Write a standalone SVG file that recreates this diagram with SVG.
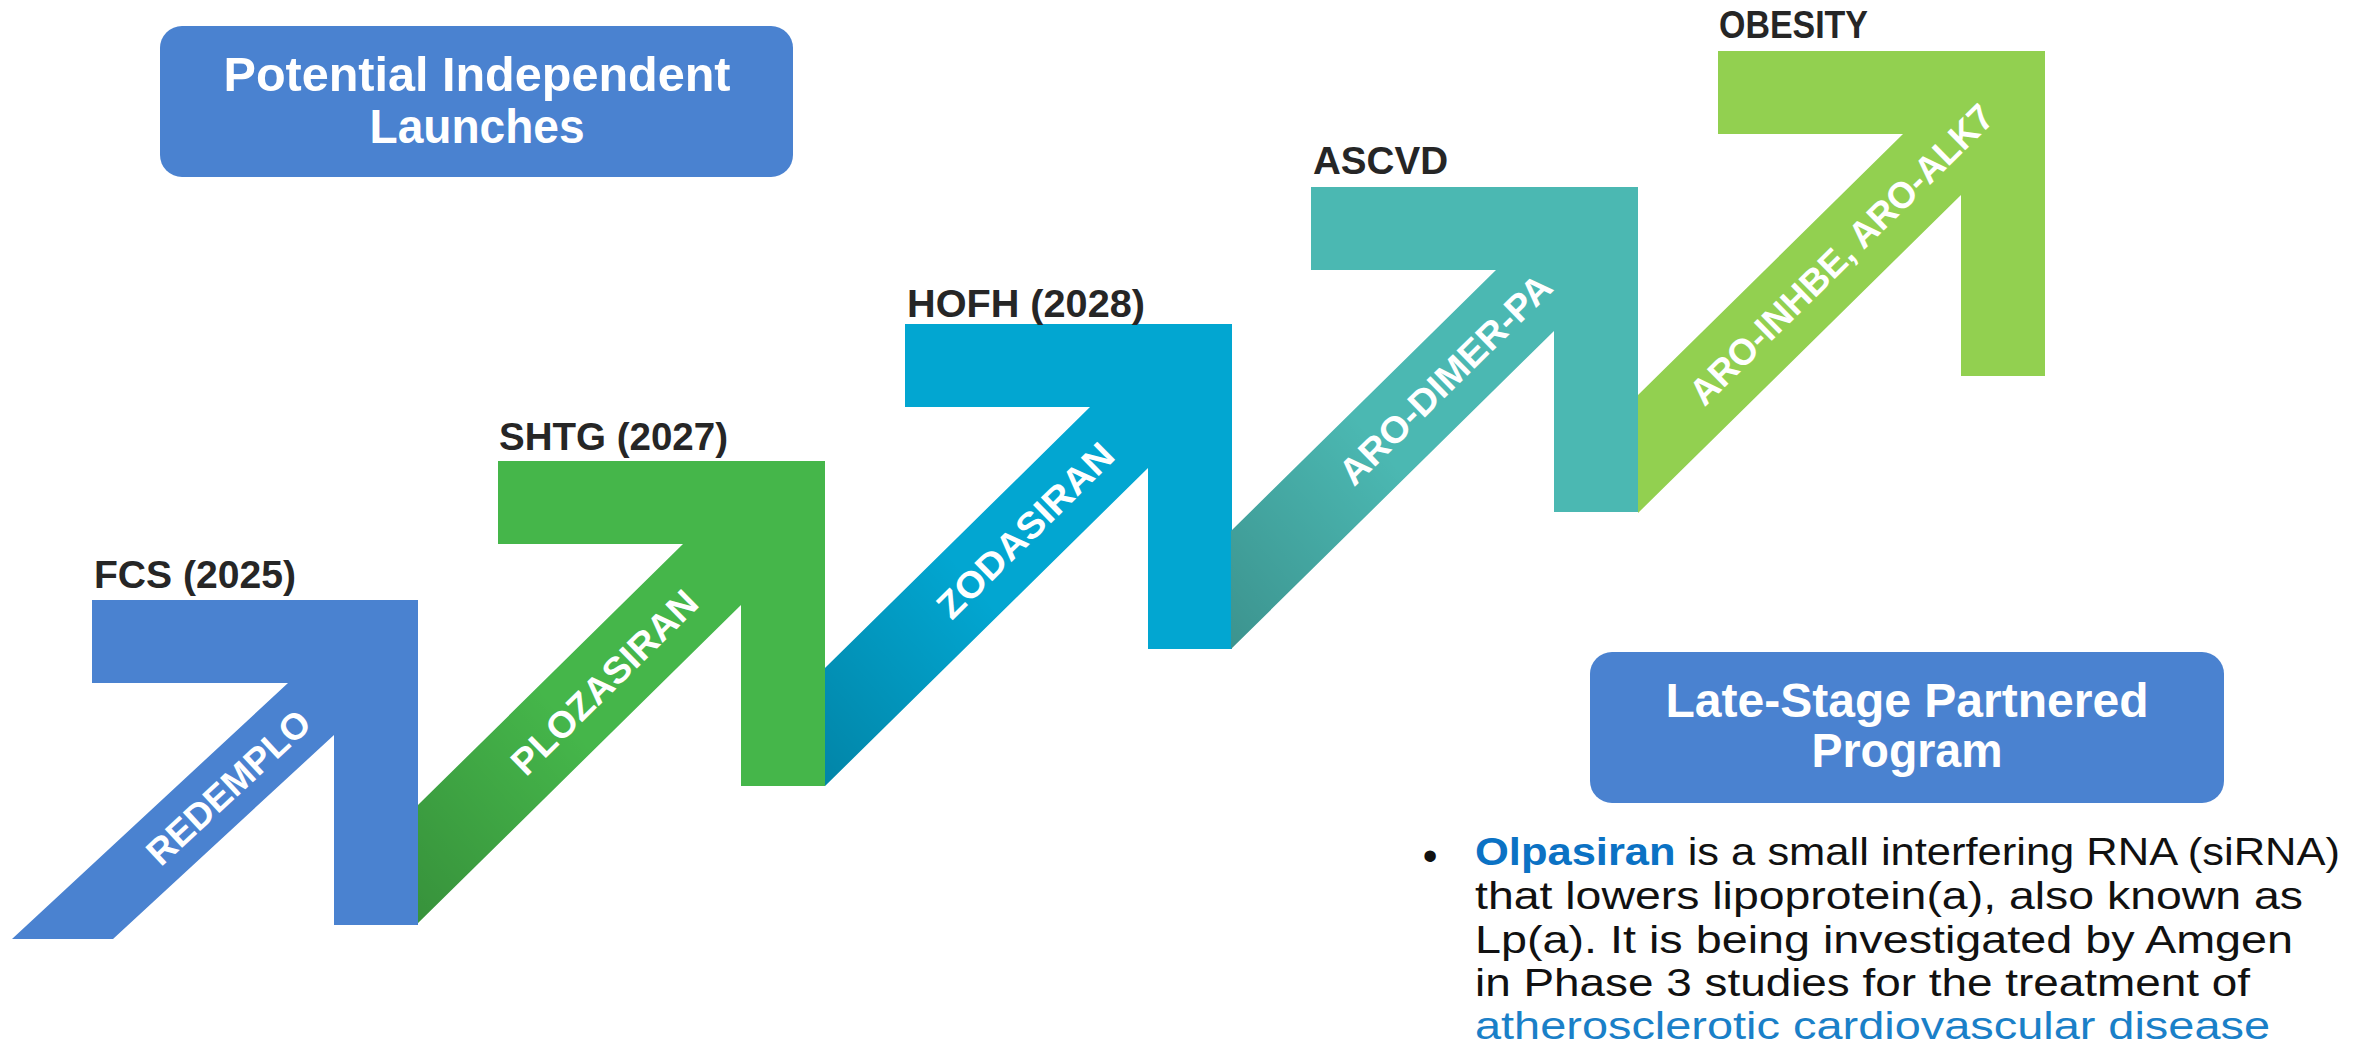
<svg xmlns="http://www.w3.org/2000/svg" xmlns:xlink="http://www.w3.org/1999/xlink" width="2364" height="1043" viewBox="0 0 2364 1043">
  <style>
    .box { fill: #4A82D0; }
    .boxtxt { font-family: "Liberation Sans", Arial, sans-serif; font-weight: bold; font-size: 48px; fill: #FFFFFF; text-anchor: middle; }
    .lbl { font-family: "Liberation Sans", Arial, sans-serif; font-weight: bold; font-size: 39px; fill: #262626; }
    .band { font-family: "Liberation Sans", Arial, sans-serif; font-weight: bold; font-size: 37px; fill: #FFFFFF; text-anchor: middle; }
    .body { font-family: "Liberation Sans", Arial, sans-serif; font-size: 38px; fill: #111111; }
    .hl { font-weight: bold; fill: #0B72C4; }
    .blue { fill: #4A82D0; }
    .green { fill: #45B64A; }
    .hofh { fill: #02A6D1; }
    .teal { fill: #4BB8B2; }
    .lime { fill: #92D050; }
  </style>
  <defs>
    <path id="arrowShape" d="M0,0 H327 V325 H243 V144 L-80,462 V344 L185,83 H0 Z"/>
    <path id="bandShade" d="M-80,344 L185,83 L243,144 L-80,462 Z" fill="url(#shade)"/>
    <linearGradient id="shade" x1="0" y1="1" x2="1" y2="0">
      <stop offset="0" stop-color="#000000" stop-opacity="0.2"/>
      <stop offset="0.5" stop-color="#000000" stop-opacity="0"/>
    </linearGradient>
  </defs>

  <g id="box-independent">
    <rect class="box" x="160" y="26" width="633" height="151" rx="22"/>
    <text class="boxtxt" x="477" y="91" textLength="507" lengthAdjust="spacingAndGlyphs">Potential Independent</text>
    <text class="boxtxt" x="477" y="143" textLength="215" lengthAdjust="spacingAndGlyphs">Launches</text>
  </g>

  <g id="node-fcs">
    <path class="blue" d="M92,600 H418 V925 H334 V735 L113,939 H12 L288,683 H92 Z"/>
    <text class="lbl" x="94" y="588" textLength="202" lengthAdjust="spacingAndGlyphs">FCS (2025)</text>
    <text class="band" x="228" y="787" dy="0.36em" transform="rotate(-42.8 228 787)" textLength="208" lengthAdjust="spacingAndGlyphs">REDEMPLO</text>
  </g>

  <g id="node-shtg">
    <use xlink:href="#arrowShape" x="498" y="461" class="green"/>
    <use xlink:href="#bandShade" x="498" y="461"/>
    <text class="lbl" x="499" y="450" textLength="229" lengthAdjust="spacingAndGlyphs">SHTG (2027)</text>
    <text class="band" x="604" y="682" dy="0.36em" transform="rotate(-44.6 604 682)" textLength="245" lengthAdjust="spacingAndGlyphs">PLOZASIRAN</text>
  </g>

  <g id="node-hofh">
    <use xlink:href="#arrowShape" x="905" y="324" class="hofh"/>
    <use xlink:href="#bandShade" x="905" y="324"/>
    <text class="lbl" x="907" y="317" textLength="238" lengthAdjust="spacingAndGlyphs">HOFH (2028)</text>
    <text class="band" x="1025" y="530" dy="0.36em" transform="rotate(-44.6 1025 530)" textLength="232" lengthAdjust="spacingAndGlyphs">ZODASIRAN</text>
  </g>

  <g id="node-ascvd">
    <use xlink:href="#arrowShape" x="1311" y="187" class="teal"/>
    <use xlink:href="#bandShade" x="1311" y="187"/>
    <text class="lbl" x="1313" y="174" textLength="135" lengthAdjust="spacingAndGlyphs">ASCVD</text>
    <text class="band" x="1445" y="379" dy="0.36em" transform="rotate(-44.6 1445 379)" textLength="282" lengthAdjust="spacingAndGlyphs">ARO-DIMER-PA</text>
  </g>

  <g id="node-obesity">
    <use xlink:href="#arrowShape" x="1718" y="51" class="lime"/>
    <text class="lbl" x="1719" y="38" textLength="149" lengthAdjust="spacingAndGlyphs">OBESITY</text>
    <text class="band" x="1841" y="254" dy="0.36em" transform="rotate(-44.6 1841 254)" textLength="410" lengthAdjust="spacingAndGlyphs">ARO-INHBE, ARO-ALK7</text>
  </g>

  <g id="box-partnered">
    <rect class="box" x="1590" y="652" width="634" height="151" rx="22"/>
    <text class="boxtxt" x="1907" y="717" textLength="483" lengthAdjust="spacingAndGlyphs">Late-Stage Partnered</text>
    <text class="boxtxt" x="1907" y="767" textLength="191" lengthAdjust="spacingAndGlyphs">Program</text>
  </g>

  <g id="olpasiran-text">
    <text class="body" x="1430" y="870" text-anchor="middle" style="font-size:42px">•</text>
    <text class="body" x="1475" y="865" textLength="865" lengthAdjust="spacingAndGlyphs"><tspan class="hl">Olpasiran</tspan> is a small interfering RNA (siRNA)</text>
    <text class="body" x="1475" y="909" textLength="828" lengthAdjust="spacingAndGlyphs">that lowers lipoprotein(a), also known as</text>
    <text class="body" x="1475" y="953" textLength="818" lengthAdjust="spacingAndGlyphs">Lp(a). It is being investigated by Amgen</text>
    <text class="body" x="1475" y="996" textLength="775" lengthAdjust="spacingAndGlyphs">in Phase 3 studies for the treatment of</text>
    <text class="body" x="1475" y="1039" textLength="795" lengthAdjust="spacingAndGlyphs" style="fill:#1A80C8">atherosclerotic cardiovascular disease</text>
  </g>

  <g id="connectors"/>
</svg>
